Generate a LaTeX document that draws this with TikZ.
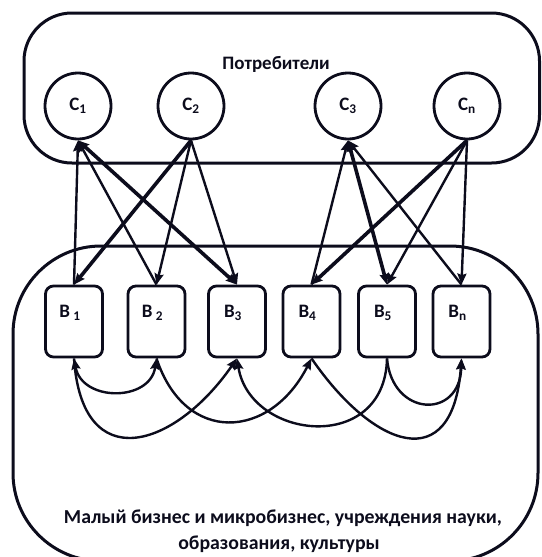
\documentclass[tikz,border=0pt]{standalone}
\usepackage{fontspec}
\setmainfont{Carlito}
\usetikzlibrary{arrows.meta}
\definecolor{lnc}{RGB}{12,12,28}
\begin{document}
\begin{tikzpicture}[x=1pt,y=-1pt,
  outline/.style={draw=lnc, line width=3pt},
  cnode/.style={circle, draw=lnc, line width=2.8pt, minimum size=66pt, inner sep=0pt, font=\bfseries\fontsize{19}{22}\selectfont, text=lnc},
  bbox/.style={draw=lnc, line width=2.8pt, rounded corners=8pt, minimum width=57pt, minimum height=71pt, inner sep=0pt},
  lbl/.style={font=\bfseries\fontsize{19}{22}\selectfont, text=lnc, inner sep=0pt},
  btxt/.style={font=\bfseries\fontsize{19.8}{22}\selectfont, text=lnc, inner sep=0pt},
  tip/.tip={Stealth[length=11pt,width=9pt,inset=1.5pt]},
  arr/.style={draw=lnc, line width=2.4pt, -tip},
  darr/.style={draw=lnc, line width=2.4pt, tip-tip},
  thk/.style={line width=3.6pt}
]
\useasboundingbox (0,0) rectangle (541,557);
% containers
\draw[outline, rounded corners=48pt] (24,13) rectangle (539.5,163);
\draw[outline, rounded corners=88pt] (13,246) rectangle (538,561);
\node[lbl] (top) at (276,64) {Потребители};
\node[btxt] (bot1) at (283,518) {Малый бизнес и микробизнес, учреждения науки,};
\node[btxt] (bot2) at (279,544) {образования, культуры};
% consumers
\node[cnode] (C1) at (78,106) {C\textsubscript{1}};
\node[cnode] (C2) at (191,106) {C\textsubscript{2}};
\node[cnode] (C3) at (348,106) {C\textsubscript{3}};
\node[cnode] (Cn) at (467,106) {C\textsubscript{n}};
% businesses
\node[bbox] (B1) at (74,321.5) {};
\node[bbox] (B2) at (156.5,321.5) {};
\node[bbox] (B3) at (237,321.5) {};
\node[bbox] (B4) at (311.5,321.5) {};
\node[bbox] (B5) at (387,321.5) {};
\node[bbox] (Bn) at (461.5,321.5) {};
\node[lbl] (L1) at (70,313) {B\,\textsubscript{1}};
\node[lbl] (L2) at (152.5,313) {B\,\textsubscript{2}};
\node[lbl] (L3) at (233,313) {B\textsubscript{3}};
\node[lbl] (L4) at (307.5,313) {B\textsubscript{4}};
\node[lbl] (L5) at (383,313) {B\textsubscript{5}};
\node[lbl] (Ln) at (457.5,313) {B\textsubscript{n}};
% consumer-business links
\draw[arr] (B1.north) -- (C1.south);
\draw[arr] (B2.north) -- (C1.south);
\draw[darr, thk] (C1.south) -- (B3.north);
\draw[arr, thk] (C2.south) -- (B1.north);
\draw[arr] (C2.south) -- (B2.north);
\draw[arr] (C2.south) -- (B3.north);
\draw[arr] (B4.north) -- (C3.south);
\draw[arr] (Bn.north) -- (C3.south);
\draw[darr, thk] (C3.south) -- (B5.north);
\draw[arr, thk] (Cn.south) -- (B4.north);
\draw[arr] (Cn.south) -- (B5.north);
\draw[arr] (Cn.south) -- (Bn.north);
% business-business links
\draw[darr] (B1.south) .. controls (82,402) and (150,402) .. (B2.south);
\draw[arr] (B1.south) .. controls (82,478) and (175,448) .. (B3.south);
\draw[arr] (B2.south) .. controls (185,445) and (270,440) .. (B4.south);
\draw[arr] (B5.south) .. controls (385,455) and (250,440) .. (B3.south);
\draw[arr] (B4.south) .. controls (373,448) and (453,478) .. (Bn.south);
\draw[arr] (B5.south) .. controls (392,417) and (460,420) .. (Bn.south);
\end{tikzpicture}
\end{document}
